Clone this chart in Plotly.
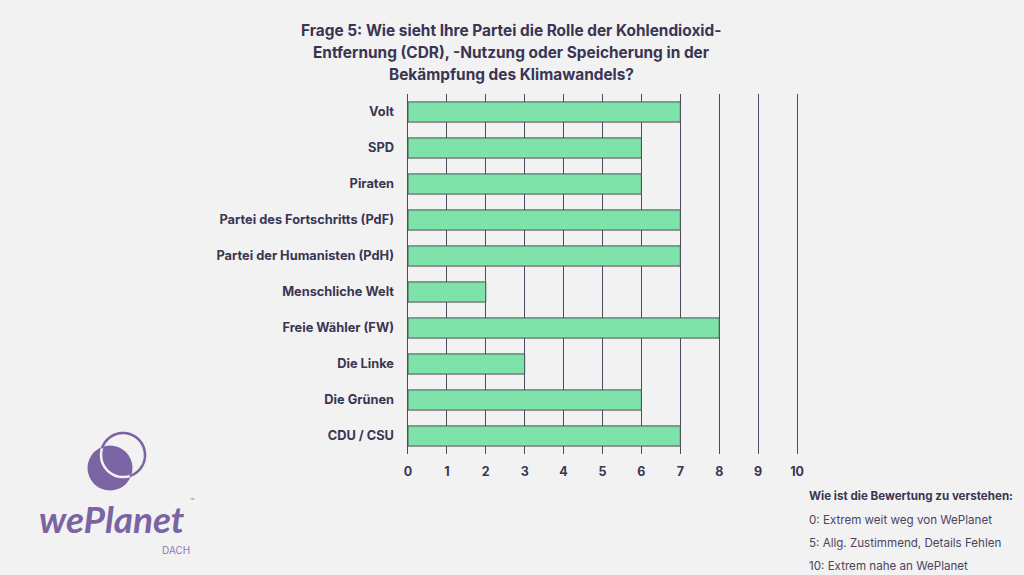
import numpy as np
import plotly.graph_objects as go

# data (top to bottom)
parteien = ["Volt", "SPD", "Piraten", "Partei des Fortschritts (PdF)",
            "Partei der Humanisten (PdH)", "Menschliche Welt", "Freie Wähler (FW)",
            "Die Linke", "Die Grünen", "CDU / CSU"]
bewertung = [7, 6, 6, 7, 7, 2, 8, 3, 6, 7]
x_ticks = list(range(0, 11))

title_lines = ["Frage 5: Wie sieht Ihre Partei die Rolle der Kohlendioxid-",
               "Entfernung (CDR), -Nutzung oder Speicherung in der",
               "Bekämpfung des Klimawandels?"]
legende_titel = "Wie ist die Bewertung zu verstehen:"
legende_zeilen = ["0: Extrem weit weg von WePlanet",
                  "5: Allg. Zustimmend, Details Fehlen",
                  "10: Extrem nahe an WePlanet"]

W, H = 1024, 575
L, R, T, B = 406, 225, 94, 121
BG = "#f2f2f2"
INK = "#3a3553"
PURPLE = "#7b64a3"
FONT = "Inter"


def px(x, y):
    # pixel position -> paper coords
    return (x - L) / (W - L - R), 1 - (y - T) / (H - T - B)


fig = go.Figure()
fig.add_trace(go.Bar(
    x=bewertung[::-1], y=parteien[::-1], orientation="h",
    marker=dict(color="#7de3a8", line=dict(color="#4d4d55", width=1)),
    width=0.56, hoverinfo="x+y",
))

fig.update_layout(
    width=W, height=H,
    margin=dict(l=L, r=R, t=T, b=B),
    paper_bgcolor=BG, plot_bgcolor=BG,
    showlegend=False,
    font=dict(family=FONT, color=INK),
    # small padding on the range so the 0 and 10 gridlines are drawn
    xaxis=dict(range=[-0.05, 10.05], tickvals=x_ticks, showgrid=True,
               gridcolor="#4d4d60", gridwidth=1, zeroline=False,
               showline=False, ticks="", ticklabelstandoff=8,
               tickfont=dict(size=12.5, family=FONT, color=INK, weight="bold"),
               fixedrange=True),
    yaxis=dict(showgrid=False, zeroline=False, showline=False, ticks="",
               ticklabelstandoff=11,
               tickfont=dict(size=12.8, family=FONT, color=INK, weight="bold"),
               fixedrange=True),
)

# title, one annotation per line
for i, line in enumerate(title_lines):
    x, y = px(511, 31 + i * 22)
    fig.add_annotation(x=x, y=y, xref="paper", yref="paper", text=f"<b>{line}</b>",
                       showarrow=False, xanchor="center", yanchor="middle",
                       font=dict(size=15.4, family=FONT, color=INK))

# explanation bottom right
x, y = px(807, 496)
fig.add_annotation(x=x, y=y, xref="paper", yref="paper", text=f"<b>{legende_titel}</b>",
                   showarrow=False, xanchor="left", yanchor="middle",
                   font=dict(size=11.6, family=FONT, color=INK))
for i, line in enumerate(legende_zeilen):
    x, y = px(807, 520 + i * 23)
    fig.add_annotation(x=x, y=y, xref="paper", yref="paper", text=line,
                       showarrow=False, xanchor="left", yanchor="middle",
                       font=dict(size=11.6, family=FONT, color="#4a4560"))

# logo: filled circle + offset ring
ca, ra = (110, 468), 22.5
cb, rb = (123, 455), 22


def circle_shape(c, r, **kw):
    x0, y0 = px(c[0] - r, c[1] + r)
    x1, y1 = px(c[0] + r, c[1] - r)
    return dict(type="circle", xref="paper", yref="paper",
                x0=x0, y0=y0, x1=x1, y1=y1, **kw)


fig.add_shape(**circle_shape(ca, ra, fillcolor=PURPLE, line=dict(width=0)))
fig.add_shape(**circle_shape(cb, rb, line=dict(color=BG, width=2.5)))

t = np.linspace(0, 2 * np.pi, 240)
bx = cb[0] + rb * np.cos(t)
by = cb[1] + rb * np.sin(t)
outside = np.hypot(bx - ca[0], by - ca[1]) > ra - 1.5
# rotate so the outside run is contiguous
start = np.argmax(~outside)
idx = np.roll(np.arange(len(t)), -start)
pts = [px(bx[i], by[i]) for i in idx if outside[i]]
path = "M " + " L ".join(f"{a:.5f},{b:.5f}" for a, b in pts)
fig.add_shape(type="path", xref="paper", yref="paper", path=path,
              line=dict(color=PURPLE, width=2.6))

x, y = px(112, 518)
fig.add_annotation(x=x, y=y, xref="paper", yref="paper", text="<b><i>wePlanet</i></b>",
                   showarrow=False, xanchor="center", yanchor="middle",
                   font=dict(size=37, family="Lato", color=PURPLE))
x, y = px(192, 501)
fig.add_annotation(x=x, y=y, xref="paper", yref="paper", text="™",
                   showarrow=False, xanchor="center", yanchor="middle",
                   font=dict(size=7, family=FONT, color=PURPLE))
x, y = px(176, 550)
fig.add_annotation(x=x, y=y, xref="paper", yref="paper", text="DACH",
                   showarrow=False, xanchor="center", yanchor="middle",
                   font=dict(size=10, family=FONT, color="#8b7bb0"))

# page has a default 8px body margin; drop it so the figure fills the window
fig.write_html("out.html", config={"displayModeBar": False},
               post_script="document.body.style.margin='0';")
